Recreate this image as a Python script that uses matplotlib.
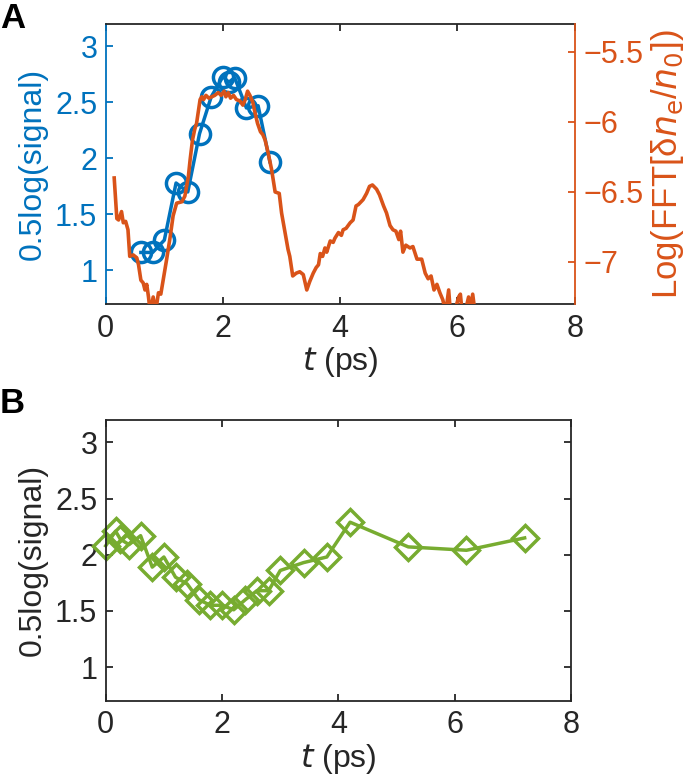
import matplotlib
matplotlib.use("Agg")
import matplotlib.pyplot as plt

plt.rcParams["font.family"] = ["Liberation Sans Narrow", "Liberation Sans", "DejaVu Sans"]
plt.rcParams["mathtext.fontset"] = "custom"
plt.rcParams["mathtext.rm"] = "Liberation Sans Narrow"
plt.rcParams["mathtext.it"] = "Liberation Sans Narrow:italic"

BLUE = "#0072BD"
ORANGE = "#D95319"
GREEN = "#77AC30"
DARK = "#262626"

# panel A: measured signal (circles)
sig_t = [0.6, 0.8, 1.0, 1.2, 1.4, 1.6, 1.8, 2.0, 2.1, 2.2, 2.4, 2.6, 2.8]
sig_v = [1.16, 1.16, 1.27, 1.78, 1.70, 2.22, 2.55, 2.73, 2.68, 2.72, 2.45, 2.47, 1.97]

# panel A: simulated FFT amplitude (right axis)
fft_t = [0.145, 0.19, 0.22, 0.27, 0.30, 0.34, 0.38, 0.41, 0.47, 0.53, 0.56, 0.60,
         0.64, 0.67, 0.70, 0.73, 0.76, 0.81, 0.85, 0.90, 0.94, 0.98, 1.04, 1.10,
         1.15, 1.21, 1.30, 1.35, 1.41, 1.44, 1.48, 1.52, 1.55, 1.61, 1.64, 1.67,
         1.71, 1.76, 1.81, 1.86, 1.92, 1.97, 2.02, 2.05, 2.09, 2.13, 2.18, 2.23,
         2.29, 2.34, 2.38, 2.42, 2.46, 2.51, 2.55, 2.59, 2.64, 2.68, 2.72, 2.77,
         2.83, 2.89, 2.96, 3.00, 3.06, 3.11, 3.14, 3.19, 3.25, 3.31, 3.37, 3.43,
         3.48, 3.54, 3.59, 3.63, 3.66, 3.70, 3.74, 3.77, 3.83, 3.88, 3.91, 3.97,
         4.02, 4.05, 4.10, 4.17, 4.22, 4.27, 4.31, 4.39, 4.45, 4.50, 4.55, 4.62,
         4.67, 4.74, 4.79, 4.85, 4.90, 4.95, 5.00, 5.03, 5.07, 5.12, 5.19, 5.24,
         5.31, 5.39, 5.45, 5.50, 5.55, 5.60, 5.65, 5.70, 5.75, 5.80, 5.85, 5.88,
         5.95, 6.02, 6.05, 6.08, 6.13, 6.19, 6.22, 6.26, 6.30]
fft_v = [-6.40, -6.69, -6.70, -6.64, -6.72, -6.71, -6.77, -6.96, -6.95, -6.97, -7.02, -7.13,
         -7.15, -7.20, -7.16, -7.25, -7.36, -7.25, -7.36, -7.22, -7.23, -7.13, -6.98, -6.82,
         -6.67, -6.58, -6.57, -6.53, -6.39, -6.27, -6.13, -6.05, -6.01, -5.84, -5.82, -5.84,
         -5.81, -5.83, -5.82, -5.81, -5.79, -5.81, -5.78, -5.82, -5.79, -5.83, -5.81, -5.84,
         -5.85, -5.88, -5.84, -5.78, -5.81, -5.86, -5.94, -6.01, -6.07, -6.09, -6.13, -6.22,
         -6.34, -6.50, -6.51, -6.65, -6.79, -6.91, -6.96, -7.10, -7.08, -7.07, -7.09, -7.20,
         -7.14, -7.08, -7.04, -7.02, -6.94, -6.96, -6.90, -6.93, -6.85, -6.86, -6.83, -6.79,
         -6.81, -6.77, -6.76, -6.72, -6.70, -6.60, -6.59, -6.555, -6.51, -6.46, -6.45, -6.48,
         -6.52, -6.60, -6.65, -6.74, -6.77, -6.78, -6.84, -6.78, -6.93, -6.88, -6.90, -6.89,
         -6.98, -6.98, -7.08, -7.12, -7.10, -7.20, -7.16, -7.22, -7.27, -7.36, -7.20, -7.36,
         -7.36, -7.25, -7.23, -7.36, -7.36, -7.25, -7.36, -7.23, -7.36]

# panel B: signal (diamonds)
b_t = [0.0, 0.17, 0.25, 0.4, 0.6, 0.8, 1.0, 1.2, 1.4, 1.6, 1.8, 2.0, 2.2,
       2.4, 2.6, 2.8, 3.0, 3.4, 3.8, 4.2, 5.2, 6.2, 7.2]
b_v = [2.08, 2.21, 2.14, 2.09, 2.17, 1.89, 1.98, 1.80, 1.74, 1.60, 1.55, 1.55, 1.51,
       1.60, 1.68, 1.68, 1.86, 1.93, 1.98, 2.29, 2.07, 2.04, 2.15]

yticks = [1, 1.5, 2, 2.5, 3]
ytick_labels = ["1", "1.5", "2", "2.5", "3"]
xticks = [0, 2, 4, 6, 8]
fft_ticks = [-7, -6.5, -6, -5.5]
fft_labels = ["\u22127", "\u22126.5", "\u22126", "\u22125.5"]

FS = 22
fig = plt.figure(figsize=(7.0, 7.81), dpi=100)

# ---- panel A
ax = fig.add_axes([0.151, 0.6108, 0.670, 0.3585])
ax.plot(sig_t, sig_v, "-o", color=BLUE, lw=2.5, ms=14.5, mfc="none", mew=2.5,
        zorder=3, clip_on=False)
ax.set_xlim(0, 8)
ax.set_ylim(0.7, 3.2)
ax.set_xticks(xticks)
ax.set_yticks(yticks)
ax.set_yticklabels(ytick_labels)
ax.tick_params(axis="x", direction="in", top=True, length=5, width=1.3,
               colors=DARK, labelsize=FS, pad=7)
ax.tick_params(axis="y", direction="in", right=False, length=5, width=1.3,
               colors=BLUE, labelsize=FS, pad=6)
ax.set_ylabel("0.5log(signal)", color=BLUE, fontsize=FS + 1, labelpad=5)
ax.set_xlabel("$\\it{t}$ (ps)", color=DARK, fontsize=FS + 1, labelpad=1)
for s in ["top", "bottom"]:
    ax.spines[s].set_color(DARK)
    ax.spines[s].set_linewidth(1.3)
ax.spines["left"].set_color(BLUE)
ax.spines["left"].set_linewidth(1.3)
ax.spines["right"].set_visible(False)

ax2 = ax.twinx()
ax2.plot(fft_t, fft_v, "-", color=ORANGE, lw=2.6)
ax2.set_ylim(-7.3, -5.3)
ax2.set_yticks(fft_ticks)
ax2.set_yticklabels(fft_labels)
ax2.tick_params(axis="y", direction="in", length=5, width=1.3,
                colors=ORANGE, labelsize=FS, pad=6)
for s in ["top", "bottom", "left"]:
    ax2.spines[s].set_visible(False)
ax2.spines["right"].set_color(ORANGE)
ax2.spines["right"].set_linewidth(1.3)
ax2.set_ylabel("Log(FFT[\u03b4$\\it{n}_{\\rm e}$/$\\it{n}_{\\rm 0}$])",
               color=ORANGE, fontsize=FS + 3, labelpad=4)

# ---- panel B
bx = fig.add_axes([0.151, 0.1028, 0.665, 0.3594])
bx.plot(b_t, b_v, "-D", color=GREEN, lw=2.5, ms=13, mfc="none", mew=2.5, clip_on=False)
bx.set_xlim(0, 8)
bx.set_ylim(0.7, 3.2)
bx.set_xticks(xticks)
bx.set_yticks(yticks)
bx.set_yticklabels(ytick_labels)
bx.tick_params(direction="in", top=True, right=True, length=5, width=1.3,
               colors=DARK, labelsize=FS)
bx.tick_params(axis="x", pad=7)
bx.tick_params(axis="y", pad=6)
bx.set_ylabel("0.5log(signal)", color=DARK, fontsize=FS + 1, labelpad=5)
bx.set_xlabel("$\\it{t}$ (ps)", color=DARK, fontsize=FS + 1, labelpad=1)
for s in bx.spines.values():
    s.set_color(DARK)
    s.set_linewidth(1.3)

fig.text(0.0, 0.997, "A", fontsize=25, fontweight="bold", va="top", ha="left",
         family=["Liberation Sans", "DejaVu Sans"])
fig.text(0.0, 0.505, "B", fontsize=25, fontweight="bold", va="top", ha="left",
         family=["Liberation Sans", "DejaVu Sans"])

fig.savefig("out.png", dpi=100)
